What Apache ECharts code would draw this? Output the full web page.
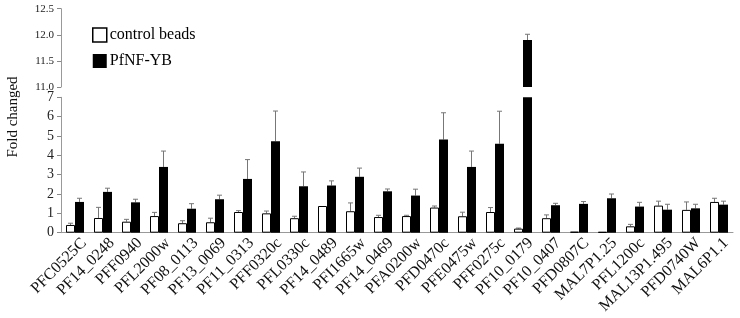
<!DOCTYPE html>
<html><head><meta charset="utf-8">
<script src="https://cdn.jsdelivr.net/npm/echarts@6/dist/echarts.min.js"></script>
<style>html,body{margin:0;padding:0;background:#fff}#c{width:740px;height:318px}</style>
</head><body><div id="c"></div>
<script>
const categories = ['PFC0525C','PF14_0248','PFF0940','PFL2000w','PF08_0113','PF13_0069','PF11_0313','PFF0320c','PFL0330c','PF14_0489','PFI1665w','PF14_0469','PFA0200w','PFD0470c','PFE0475w','PFF0275c','PF10_0179','PF10_0407','PFD0807C','MAL7P1.25','PFL1200c','MAL13P1.495','PFD0740W','MAL6P1.1'];
const controlVals = [0.40,0.76,0.57,0.86,0.49,0.54,1.07,1.00,0.75,1.38,1.11,0.81,0.86,1.30,0.85,1.07,0.21,0.75,0.05,0.04,0.33,1.40,1.18,1.59];
const controlErr  = [0.09,0.55,0.12,0.19,0.13,0.21,0.07,0.12,0.10,0.00,0.43,0.09,0.04,0.08,0.21,0.23,0.03,0.17,0.00,0.00,0.10,0.23,0.41,0.19];
const nfybVals = [1.59,2.11,1.57,3.40,1.24,1.73,2.78,4.73,2.40,2.44,2.89,2.14,1.92,4.82,3.40,4.60,11.90,1.42,1.49,1.78,1.35,1.19,1.26,1.45];
const nfybErr  = [0.19,0.19,0.16,0.82,0.26,0.21,1.00,1.56,0.74,0.24,0.45,0.12,0.33,1.38,0.82,1.68,0.11,0.10,0.12,0.22,0.22,0.28,0.21,0.18];
const lowerTicks = [0,1,2,3,4,5,6,7];
const upperTicks = [11.0,11.5,12.0,12.5];

const lowMin = lowerTicks[0], lowMax = lowerTicks[lowerTicks.length-1];
const upMin = upperTicks[0], upMax = upperTicks[upperTicks.length-1];
const FONT = '"Liberation Serif","Times New Roman",serif';
const BW = 9;
const LABEL_DX = 9;

function errSeries(name, vals, errs, side, axisIdx, lo, hi) {
  return {
    type: 'custom', name: name, xAxisIndex: axisIdx, yAxisIndex: axisIdx, silent: true, z: 1,
    data: vals.map((v, i) => [i, v, errs[i]]),
    renderItem: function (params, api) {
      const i = api.value(0), v = api.value(1), e = api.value(2);
      if (!(e > 0) || v < lo || v + e > hi + 1e-9) return;
      const base = api.coord([i, v]);
      const top = api.coord([i, v + e]);
      const x = base[0] + side * BW / 2;
      const st = {stroke: '#777', lineWidth: 1};
      return {type: 'group', children: [
        {type: 'line', shape: {x1: x, y1: base[1], x2: x, y2: top[1]}, style: st},
        {type: 'line', shape: {x1: x - 2.5, y1: top[1], x2: x + 2.5, y2: top[1]}, style: st}
      ]};
    }
  };
}

const chart = echarts.init(document.getElementById('c'), null, {renderer: 'canvas'});
chart.setOption({
  animation: false,
  backgroundColor: '#fff',
  grid: [
    {left: 61, right: 7, top: 8.7, height: 78.3},
    {left: 61, right: 7, top: 97.3, height: 135.4},
    {left: 61 + LABEL_DX, right: 7 - LABEL_DX, top: 97.3, height: 135.4}
  ],
  xAxis: [
    {type: 'category', gridIndex: 0, data: categories, show: false},
    {type: 'category', gridIndex: 1, data: categories,
     axisLine: {show: true, lineStyle: {color: '#999'}},
     axisTick: {show: false}, axisLabel: {show: false}},
    {type: 'category', gridIndex: 2, data: categories,
     axisLine: {show: false}, axisTick: {show: false},
     axisLabel: {rotate: 45, interval: 0, color: '#111', fontFamily: FONT, fontSize: 16, margin: 8}}
  ],
  yAxis: [
    {type: 'value', gridIndex: 0, min: upMin, max: upMax, interval: 0.5,
     axisLine: {show: true, lineStyle: {color: '#999', width: 1}},
     axisTick: {show: true, inside: false, length: 4, lineStyle: {color: '#888', width: 1}},
     splitLine: {show: false},
     axisLabel: {show: true, color: '#222', fontFamily: FONT, fontSize: 11, margin: 7, formatter: function (v) { return v.toFixed(1); }}},
    {type: 'value', gridIndex: 1, min: lowMin, max: lowMax, interval: 1,
     axisLine: {show: true, lineStyle: {color: '#999', width: 1}},
     axisTick: {show: true, inside: false, length: 4, lineStyle: {color: '#888', width: 1}},
     splitLine: {show: false},
     axisLabel: {show: true, color: '#222', fontFamily: FONT, fontSize: 14, margin: 7}},
    {type: 'value', gridIndex: 2, min: lowMin, max: lowMax, show: false}
  ],
  legend: {
    orient: 'vertical', left: 92, top: 27, padding: 0, itemWidth: 14, itemHeight: 14, itemGap: 10,
    icon: 'rect',
    textStyle: {fontFamily: FONT, fontSize: 16, color: '#000', padding: [0,0,0,-2]},
    data: [
      {name: 'control beads', itemStyle: {color: '#fff', borderColor: '#000', borderWidth: 1.5}},
      {name: 'PfNF-YB', itemStyle: {color: '#000'}}
    ]
  },
  graphic: [{
    type: 'text', x: 13, y: 117, rotation: Math.PI / 2,
    style: {text: 'Fold changed', fontFamily: FONT, fontSize: 15, fill: '#111', align: 'center', verticalAlign: 'middle'}
  }],
  series: [
    {type: 'bar', name: 'control beads', xAxisIndex: 0, yAxisIndex: 0, barWidth: BW, barGap: '0%',
     data: controlVals.map(v => v > upMin ? v : '-'), itemStyle: {color: '#fff', borderColor: '#000', borderWidth: 1}},
    {type: 'bar', name: 'PfNF-YB', xAxisIndex: 0, yAxisIndex: 0, barWidth: BW, barGap: '0%',
     data: nfybVals.map(v => v > upMin ? v : '-'), itemStyle: {color: '#000'}},
    {type: 'bar', name: 'control beads', xAxisIndex: 1, yAxisIndex: 1, barWidth: BW, barGap: '0%', clip: true,
     data: controlVals, itemStyle: {color: '#fff', borderColor: '#000', borderWidth: 1}},
    {type: 'bar', name: 'PfNF-YB', xAxisIndex: 1, yAxisIndex: 1, barWidth: BW, barGap: '0%', clip: true,
     data: nfybVals, itemStyle: {color: '#000'}},
    errSeries('errC0', controlVals, controlErr, -1, 0, upMin, upMax),
    errSeries('errN0', nfybVals, nfybErr, 1, 0, upMin, upMax),
    errSeries('errC1', controlVals, controlErr, -1, 1, lowMin, lowMax),
    errSeries('errN1', nfybVals, nfybErr, 1, 1, lowMin, lowMax)
  ]
});
</script></body></html>
